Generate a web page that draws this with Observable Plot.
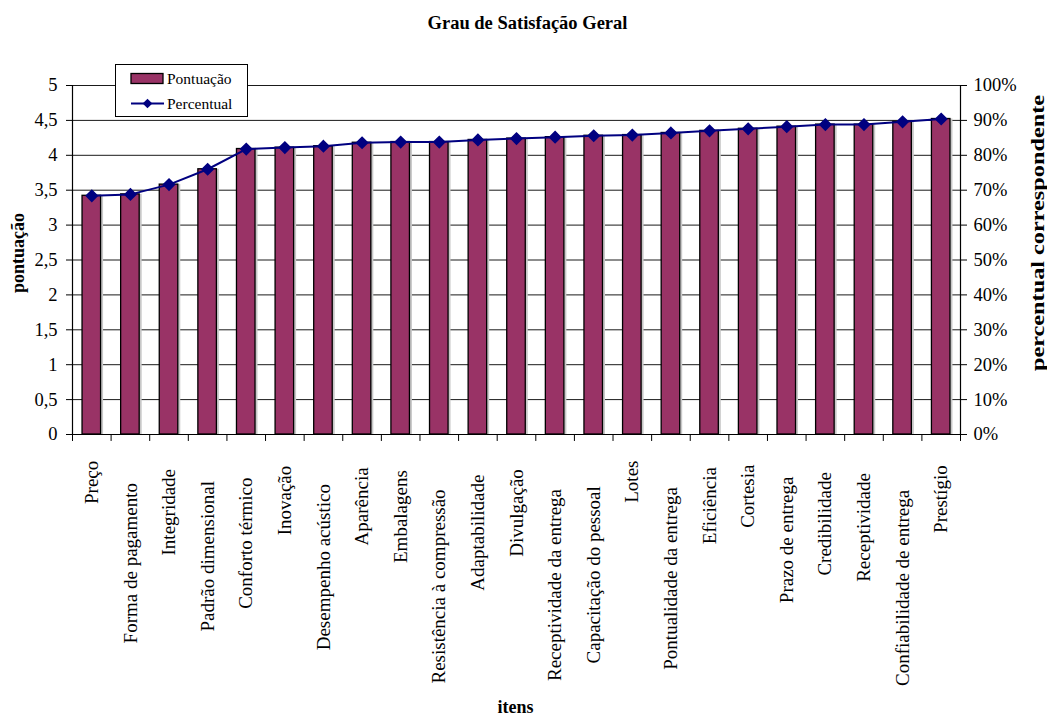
<!DOCTYPE html>
<html>
<head>
<meta charset="utf-8">
<script src="https://cdn.jsdelivr.net/npm/d3@7"></script>
<script src="https://cdn.jsdelivr.net/npm/@observablehq/plot@0.6"></script>
<style>
  body { margin: 0; background: #fff; }
  #chart { position: relative; width: 1047px; height: 719px; font-family: "Liberation Serif", "Times New Roman", serif; }
  #legend { position: absolute; left: 115px; top: 64px; }
</style>
</head>
<body>
<div id="chart"></div>
<script>
// Items evaluated, ordered by score
const itens = [
  "Preço", "Forma de pagamento", "Integridade", "Padrão dimensional", "Conforto térmico",
  "Inovação", "Desempenho acústico", "Aparência", "Embalagens", "Resistência à compressão",
  "Adaptabilidade", "Divulgação", "Receptividade da entrega", "Capacitação do pessoal", "Lotes",
  "Pontualidade da entrega", "Eficiência", "Cortesia", "Prazo de entrega", "Credibilidade",
  "Receptividade", "Confiabilidade de entrega", "Prestígio"
];
// Mean score (0–5)
const pontuacao = [
  3.42, 3.44, 3.58, 3.80, 4.09, 4.11, 4.13, 4.18, 4.19, 4.19,
  4.22, 4.24, 4.26, 4.28, 4.29, 4.32, 4.35, 4.38, 4.41, 4.44,
  4.44, 4.48, 4.52
];
// Corresponding percentage of the maximum score
const percentual = [
  68.4, 68.8, 71.6, 76.0, 81.8, 82.2, 82.6, 83.6, 83.8, 83.8,
  84.4, 84.8, 85.2, 85.6, 85.8, 86.4, 87.0, 87.6, 88.2, 88.8,
  88.8, 89.6, 90.4
];
// Axis ticks
const ticksPontuacao = [0, 0.5, 1, 1.5, 2, 2.5, 3, 3.5, 4, 4.5, 5];
const ticksPercentual = [0, 10, 20, 30, 40, 50, 60, 70, 80, 90, 100];

const data = itens.map((item, i) => ({item, pontuacao: pontuacao[i], percentual: percentual[i]}));

const W = 1047, H = 719;
const mL = 72, mR = 87, mT = 85, mB = 285;
const step = (W - mL - mR) / itens.length;
const serif = "'Liberation Serif', 'Times New Roman', serif";
const plum = "#993366", navy = "#000080";
// percent values share the same vertical scale as the score (100% = 5)
const pct = v => v / 20;

const chart = Plot.plot({
  width: W,
  height: H,
  marginLeft: mL, marginRight: mR, marginTop: mT, marginBottom: mB,
  style: {fontFamily: serif, fontSize: "18.5px", color: "#000", background: "#fff"},
  x: {domain: itens, paddingInner: 0.52, paddingOuter: 0.26, round: false},
  y: {domain: [0, 5]},
  marks: [
    Plot.gridY(ticksPontuacao, {stroke: "#1a1a1a", strokeOpacity: 1}),
    // bar shadows
    Plot.barY(data, {x: "item", y: "pontuacao", fill: "#c8c8c8", dx: 2.5}),
    Plot.barY(data, {x: "item", y: "pontuacao", fill: plum, stroke: "#000", strokeWidth: 1.3}),
    // axis lines
    Plot.ruleY([0], {stroke: "#000", strokeWidth: 1.2}),
    Plot.ruleX(itens.slice(0, 1), {y1: 0, y2: 5, dx: -step / 2, stroke: "#000", strokeWidth: 1.2}),
    Plot.ruleX(itens.slice(-1), {y1: 0, y2: 5, dx: step / 2, stroke: "#000", strokeWidth: 1.2}),
    // category separators below the baseline
    Plot.ruleX(itens, {y1: 0, y2: -0.1, dx: -step / 2, stroke: "#000"}),
    Plot.ruleX(itens.slice(-1), {y1: 0, y2: -0.1, dx: step / 2, stroke: "#000"}),
    // percentage line
    Plot.line(data, {x: "item", y: d => pct(d.percentual), stroke: navy, strokeWidth: 2}),
    Plot.dot(data, {x: "item", y: d => pct(d.percentual), symbol: "diamond2", r: 5, fill: navy, stroke: navy}),
    Plot.axisY(ticksPontuacao, {
      anchor: "left", label: null, tickSize: 6, tickPadding: 9,
      tickFormat: d => String(d).replace(".", ",")
    }),
    Plot.axisY(ticksPercentual.map(pct), {
      anchor: "right", label: null, tickSize: 6, tickPadding: 7,
      tickFormat: d => `${Math.round(d * 20)}%`
    }),
    Plot.axisX({
      anchor: "bottom", label: null, tickSize: 0, tickPadding: 18,
      tickRotate: -90, fontSize: 19
    }),
    Plot.text(["Grau de Satisfação Geral"], {
      frameAnchor: "top", lineAnchor: "middle", dx: 11, dy: -62, fontWeight: "bold", fontSize: 18.5
    }),
    Plot.text(["pontuação"], {
      frameAnchor: "left", textAnchor: "middle", lineAnchor: "middle", dx: -54, dy: -7, rotate: -90, fontWeight: "bold", fontSize: 18
    }),
    Plot.text(["percentual correspondente"], {
      frameAnchor: "right", textAnchor: "middle", lineAnchor: "middle", dx: 78, dy: -27, rotate: -90, fontWeight: "bold", fontSize: 18,
      className: "right-title"
    }),
    Plot.text(["itens"], {
      frameAnchor: "bottom", lineAnchor: "middle", dx: -1, dy: 273, fontWeight: "bold", fontSize: 18
    })
  ]
});

const container = document.getElementById("chart");
container.appendChild(chart);

// rotated category labels sit a little lower the longer they are
d3.select(chart).selectAll('g[aria-label="x-axis tick label"] text').each(function() {
  const len = this.getComputedTextLength();
  this.setAttribute("x", -0.19 * len);
});

// the right-hand axis title is set wide
d3.select(chart).selectAll("text")
  .filter(function() { return this.textContent === "percentual correspondente"; })
  .attr("textLength", 276)
  .attr("lengthAdjust", "spacingAndGlyphs");

// legend
const legend = d3.select(container).append("svg")
  .attr("id", "legend").attr("width", 134).attr("height", 54)
  .style("font-family", serif).style("font-size", "15.5px");
legend.append("rect").attr("x", 0.5).attr("y", 0.5).attr("width", 132).attr("height", 52)
  .attr("fill", "#fff").attr("stroke", "#000");
legend.append("rect").attr("x", 16).attr("y", 9.5).attr("width", 32).attr("height", 10)
  .attr("fill", plum).attr("stroke", "#000").attr("stroke-width", 1.3);
legend.append("text").attr("x", 52).attr("y", 20).text("Pontuação");
legend.append("line").attr("x1", 16).attr("x2", 49).attr("y1", 39.5).attr("y2", 39.5)
  .attr("stroke", navy).attr("stroke-width", 2);
legend.append("path").attr("d", d3.symbol(d3.symbolDiamond2, 60)())
  .attr("transform", "translate(32.5,39.5)").attr("fill", navy);
legend.append("text").attr("x", 52).attr("y", 45).text("Percentual");
</script>
</body>
</html>
